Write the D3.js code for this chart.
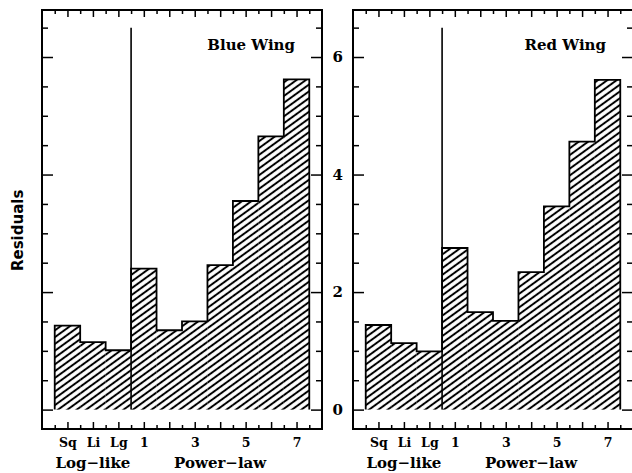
<!DOCTYPE html>
<html>
<head>
<meta charset="utf-8">
<script src="https://cdn.jsdelivr.net/npm/d3@7"></script>
<style>
    body { margin: 0; background: #fff; }
    svg { display: block; }
    .frame { fill: none; stroke: #000; stroke-width: 2; }
    .tick line { stroke: #000; stroke-width: 1.5; }
    .domain { display: none; }
</style>
</head>
<body>
<div id="chart"></div>
<script>
const categories = ['Sq', 'Li', 'Lg', '1', '2', '3', '4', '5', '6', '7'];
const tickLabels = ['Sq', 'Li', 'Lg', '1', '', '3', '', '5', '', '7'];
const blueWing = [1.43, 1.15, 1.01, 2.40, 1.35, 1.50, 2.46, 3.55, 4.65, 5.62];
const redWing = [1.44, 1.13, 0.99, 2.75, 1.66, 1.51, 2.34, 3.46, 4.56, 5.61];
const panelTitles = ['Blue Wing', 'Red Wing'];
const groupNames = ['Log\u2212like', 'Power\u2212law'];
const groupStarts = [0, 3];
const groupEnds = [2, 9];
const yMajor = [0, 2, 4, 6];
const yMinor = [0.5, 1, 1.5, 2.5, 3, 3.5, 4.5, 5, 5.5, 6.5];
const separatorTop = 6.5;

const W = 632, H = 473;
const margin = {top: 10, left: 42, bottom: 44},
    panelW = 280,
    gap = 31,
    panelH = H - margin.top - margin.bottom;

const serif = 'DejaVu Serif';

const svg = d3.select('#chart').append('svg')
    .attr('width', W)
    .attr('height', H);

svg.append('defs').append('pattern')
    .attr('id', 'hatch')
    .attr('patternUnits', 'userSpaceOnUse')
    .attr('width', 8)
    .attr('height', 5.5)
    .attr('patternTransform', 'rotate(-36)')
    .append('line')
    .attr('x1', 0).attr('x2', 8)
    .attr('y1', 2.75).attr('y2', 2.75)
    .attr('stroke', '#000')
    .attr('stroke-width', 2);

const x = d3.scaleLinear()
    .domain([0, categories.length + 1])
    .range([0, panelW]);

const y = d3.scaleLinear()
    .domain([-0.33, 6.8])
    .range([panelH, 0]);

const centers = categories.map((c, i) => i + 1);
const edges = d3.range(categories.length + 1).map(i => i + 0.5);

function drawPanel(g, values, title, showYLabels) {
    // hatched bars
    g.selectAll('rect.bar')
        .data(values)
        .enter().append('rect')
        .attr('class', 'bar')
        .attr('x', (d, i) => x(i + 0.5))
        .attr('width', x(1) - x(0))
        .attr('y', d => y(d))
        .attr('height', d => y(0) - y(d))
        .attr('fill', 'url(#hatch)');

    // stepped outline, no bottom edge
    let pts = [[x(0.5), y(0)]];
    values.forEach((v, i) => {
        pts.push([x(i + 0.5), y(v)]);
        pts.push([x(i + 1.5), y(v)]);
    });
    pts.push([x(values.length + 0.5), y(0)]);
    g.append('path')
        .attr('d', d3.line()(pts))
        .attr('fill', 'none')
        .attr('stroke', '#000')
        .attr('stroke-width', 1.8);

    g.append('line')
        .attr('x1', x(groupEnds[0] + 1.5)).attr('x2', x(groupEnds[0] + 1.5))
        .attr('y1', y(separatorTop)).attr('y2', y(0))
        .attr('stroke', '#000')
        .attr('stroke-width', 1.6);

    // ticks, all pointing inward
    g.append('g').attr('transform', 'translate(0,' + panelH + ')')
        .call(d3.axisBottom(x).tickValues(centers).tickSize(-7).tickPadding(9)
            .tickFormat((d, i) => tickLabels[i]))
        .call(a => a.selectAll('text')
            .style('font-family', serif).style('font-weight', 'bold')
            .style('font-size', '12.5px').attr('fill', '#000'));
    g.append('g').attr('transform', 'translate(0,' + panelH + ')')
        .call(d3.axisBottom(x).tickValues(edges).tickSize(-4).tickFormat(''));
    g.append('g')
        .call(d3.axisTop(x).tickValues(centers).tickSize(-7).tickFormat(''));
    g.append('g')
        .call(d3.axisTop(x).tickValues(edges).tickSize(-4).tickFormat(''));

    g.append('g')
        .call(d3.axisLeft(y).tickValues(yMajor).tickSize(-11).tickPadding(10)
            .tickFormat(showYLabels ? d3.format('d') : ''))
        .call(a => a.selectAll('text')
            .style('font-family', serif).style('font-weight', 'bold')
            .style('font-size', '15px').attr('fill', '#000'));
    g.append('g')
        .call(d3.axisLeft(y).tickValues(yMinor).tickSize(-6).tickFormat(''));
    g.append('g').attr('transform', 'translate(' + panelW + ',0)')
        .call(d3.axisRight(y).tickValues(yMajor).tickSize(-11).tickFormat(''));
    g.append('g').attr('transform', 'translate(' + panelW + ',0)')
        .call(d3.axisRight(y).tickValues(yMinor).tickSize(-6).tickFormat(''));

    g.append('rect')
        .attr('class', 'frame')
        .attr('width', panelW)
        .attr('height', panelH);

    g.append('text')
        .attr('x', panelW - 27)
        .attr('y', 40)
        .attr('text-anchor', 'end')
        .style('font-family', serif)
        .style('font-weight', 'bold')
        .style('font-size', '15px')
        .attr('fill', '#000')
        .text(title);

    g.selectAll('text.group')
        .data(groupNames)
        .enter().append('text')
        .attr('class', 'group')
        .attr('x', (d, i) => x((groupStarts[i] + groupEnds[i]) / 2 + 1))
        .attr('y', panelH + 39)
        .attr('text-anchor', 'middle')
        .style('font-family', serif)
        .style('font-weight', 'bold')
        .style('font-size', '15px')
        .attr('fill', '#000')
        .text(d => d);
}

[blueWing, redWing].forEach((values, p) => {
    let g = svg.append('g')
        .attr('transform', 'translate(' + (margin.left + p * (panelW + gap)) + ',' + margin.top + ')');
    drawPanel(g, values, panelTitles[p], p === 1);
});

svg.append('text')
    .attr('transform', 'translate(23,' + (margin.top + y(3.05)) + ') rotate(-90)')
    .attr('text-anchor', 'middle')
    .style('font-family', 'DejaVu Sans')
    .style('font-weight', 'bold')
    .style('font-size', '15px')
    .attr('fill', '#000')
    .text('Residuals');
</script>
</body>
</html>
